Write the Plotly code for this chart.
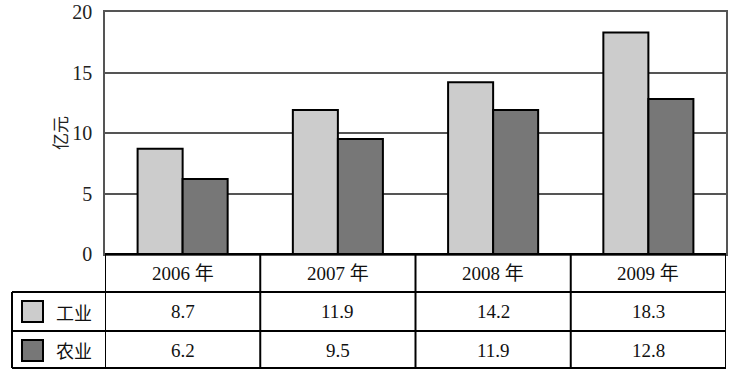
import plotly.graph_objects as go

categories = ["2006 年", "2007 年", "2008 年", "2009 年"]
industry = [8.7, 11.9, 14.2, 18.3]
agriculture = [6.2, 9.5, 11.9, 12.8]
series_names = ["工业", "农业"]
y_ticks = [0, 5, 10, 15, 20]
y_title = "亿元"

FONT = "Liberation Serif, 'Noto Sans CJK SC', serif"
LIGHT = "#cccccc"
DARK = "#777777"

W, H = 739, 378
ML, MR, MT, MB = 105, 13, 12, 124
pw = W - ML - MR
ph = H - MT - MB

def py(pix):
    # page pixel y -> paper y
    return (H - MB - pix) / ph

def px(pix):
    # page pixel x -> paper x
    return (pix - ML) / pw

fig = go.Figure()
fig.add_trace(go.Bar(x=categories, y=industry, name=series_names[0],
                     marker=dict(color=LIGHT, line=dict(color="black", width=2))))
fig.add_trace(go.Bar(x=categories, y=agriculture, name=series_names[1],
                     marker=dict(color=DARK, line=dict(color="black", width=2))))

n = len(categories)
shapes = []
line = dict(color="black", width=2)
for i in range(n + 1):
    shapes.append(dict(type="line", xref="x", yref="paper", x0=i - 0.5, x1=i - 0.5,
                       y0=0, y1=py(368), line=line))
for yy in [292, 331, 368]:
    shapes.append(dict(type="line", xref="paper", yref="paper", x0=px(12), x1=1,
                       y0=py(yy), y1=py(yy), line=line))
shapes.append(dict(type="line", xref="paper", yref="paper", x0=0, x1=1,
                   y0=0, y1=0, line=line))
shapes.append(dict(type="line", xref="paper", yref="paper", x0=px(12), x1=px(12),
                   y0=py(292), y1=py(368), line=line))
for color, (top, bot) in zip([LIGHT, DARK], [(301, 322), (340, 361)]):
    shapes.append(dict(type="rect", xref="paper", yref="paper", x0=px(22), x1=px(43),
                       y0=py(bot), y1=py(top), fillcolor=color,
                       line=dict(color="black", width=2)))

annotations = []
tf = dict(family=FONT, size=19, color="#111")
common = dict(showarrow=False, xanchor="center", yanchor="middle", font=tf)
for c in categories:
    annotations.append(dict(xref="x", yref="paper", x=c, y=py(273), text=c.replace(" ", "&nbsp;"), **common))
for row_y, vals in zip([311.5, 350], [industry, agriculture]):
    for c, v in zip(categories, vals):
        annotations.append(dict(xref="x", yref="paper", x=c, y=py(row_y), text=f"{v:.1f}", **common))
for row_y, name in zip([311.5, 350], series_names):
    annotations.append(dict(xref="paper", yref="paper", x=px(74), y=py(row_y), text=name,
                            showarrow=False, xanchor="center", yanchor="middle",
                            font=dict(family="'Noto Sans CJK SC'", size=18, color="#111")))
annotations.append(dict(xref="paper", yref="paper", x=px(59), y=py(133), text=y_title,
                        textangle=-90, showarrow=False, xanchor="center", yanchor="middle",
                        font=dict(family="'Noto Sans CJK SC'", size=17, color="#222")))

fig.update_layout(
    width=W, height=H,
    margin=dict(l=ML, r=MR, t=MT, b=MB, autoexpand=False),
    paper_bgcolor="white", plot_bgcolor="white",
    barmode="group", bargap=0.42, bargroupgap=0,
    showlegend=False,
    shapes=shapes, annotations=annotations,
    font=dict(family=FONT, color="black"),
)
fig.update_xaxes(showticklabels=False, showgrid=False, showline=True, mirror=True,
                 linecolor="#555555", linewidth=1.5, range=[-0.5, n - 0.5], zeroline=False,
                 automargin=False)
fig.update_yaxes(range=[0, 20], tickvals=y_ticks, showgrid=True, gridcolor="#555555",
                 gridwidth=1.5, showline=True, mirror=True, linecolor="#555555",
                 linewidth=1.5, zeroline=False, ticks="", ticklabelstandoff=7,
                 automargin=False, ticklabeloverflow="allow",
                 tickfont=dict(family=FONT, size=20, color="#222"))

fig.write_html("out.html", config={"displayModeBar": False},
               post_script="document.body.style.margin='0';document.body.style.overflow='hidden';")
